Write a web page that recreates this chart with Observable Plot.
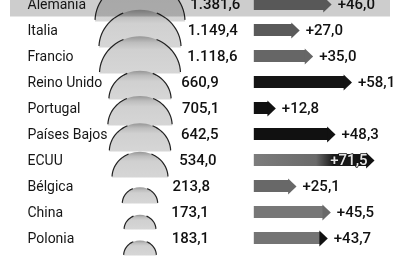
<!DOCTYPE html>
<html><head><meta charset="utf-8">
<script src="https://cdn.jsdelivr.net/npm/d3@7"></script>
<script src="https://cdn.jsdelivr.net/npm/@observablehq/plot@0.6"></script>
<style>html,body{margin:0;padding:0;background:#fff;} #chart{width:401px;height:262px;overflow:hidden;}</style>
</head><body><div id="chart"></div>
<script>
// ---- data ----
const countries = ["Alemania","Italia","Francio","Reino Unido","Portugal","Países Bajos","ECUU","Bélgica","China","Polonia"];
const values = [1381.6,1149.4,1118.6,660.9,705.1,642.5,534.0,213.8,173.1,183.1];
const changes = [46.0,27.0,35.0,58.1,12.8,48.3,71.5,25.1,45.5,43.7];
const highlighted = ["Alemania"];
const insideLabel = ["ECUU"];

// ---- styles ----
const arrowBody = {"Alemania":"#585858","Italia":"#5a5a5a","Francio":"#666666","Reino Unido":"#151515","Portugal":"#111111","Países Bajos":"#111111","ECUU":"url(#eeuuGrad)","Bélgica":"#686868","China":"#777777","Polonia":"#747474"};
const arrowHead = {"Alemania":"#585858","Italia":"#5a5a5a","Francio":"#666666","Reino Unido":"#151515","Portugal":"#111111","Países Bajos":"#111111","ECUU":"#111111","Bélgica":"#686868","China":"#6a6a6a","Polonia":"#111111"};

const rows = countries.map((c,i)=>({country:c, value:values[i], change:changes[i]}));
const es = d3.formatLocale({decimal:",", thousands:".", grouping:[3], currency:["","€"]});
const fmt = es.format(",.1f");

const W=401, H=262, ML=10, MR=11;
const xDomain=[-145,81];
const yRange=[-12.6,255.2];
const rDomain=[0,1400], rRange=[0,45.3];
const domeCx = 139.5;
const xs = Plot.scale({x:{domain:xDomain, range:[ML, W-MR]}});
const rs = Plot.scale({r:{type:"sqrt", domain:rDomain, range:rRange}});
const domeX = xs.invert(domeCx);
const valueX = d => xs.invert(domeCx + 21 + 0.65*rs.apply(d.value));

const SQ = 0.92;
const dome = {draw(ctx, size){
  const r=Math.sqrt(size/Math.PI), ry=r*SQ, k=0.5523;
  ctx.moveTo(-r,0);
  ctx.bezierCurveTo(-r,-k*ry,-k*r,-ry,0,-ry);
  ctx.bezierCurveTo(k*r,-ry,r,-k*ry,r,0);
  ctx.closePath();
}};
const domeSides = {draw(ctx, size){
  const r=Math.sqrt(size/Math.PI), ry=r*SQ, n=14, a0=0.04, a1=1.15;
  for (let j=0;j<=n;j++){ const t=Math.PI-(a0+(a1-a0)*j/n); const px=r*Math.cos(t), py=-ry*Math.sin(t); j? ctx.lineTo(px,py):ctx.moveTo(px,py); }
  for (let j=0;j<=n;j++){ const t=a0+(a1-a0)*j/n; const px=r*Math.cos(t), py=-ry*Math.sin(t); j? ctx.lineTo(px,py):ctx.moveTo(px,py); }
}};
const head = {draw(ctx, size){
  const r=Math.sqrt(size/Math.PI);
  ctx.moveTo(0,0); ctx.lineTo(-r*1.05,-r); ctx.lineTo(-r*1.05,r); ctx.closePath();
}};

function defsMark(){
  const ns="http://www.w3.org/2000/svg";
  const defs=document.createElementNS(ns,"defs");
  defs.innerHTML = `
  <linearGradient id="domeGrad" x1="0" y1="0" x2="0" y2="1">
    <stop offset="0" stop-color="#969696"/>
    <stop offset="0.17" stop-color="#bdbdbd"/>
    <stop offset="0.36" stop-color="#d0d0d0"/>
    <stop offset="1" stop-color="#d6d6d6"/>
  </linearGradient>
  <linearGradient id="eeuuGrad" x1="0" y1="0" x2="1" y2="0">
    <stop offset="0" stop-color="#7c7c7c"/>
    <stop offset="0.55" stop-color="#6a6a6a"/>
    <stop offset="0.7" stop-color="#1c1c1c"/>
    <stop offset="1" stop-color="#111111"/>
  </linearGradient>`;
  return defs;
}

const chart = Plot.plot({
  width: W, height: H,
  marginTop: 0, marginBottom: 0, marginLeft: ML, marginRight: MR,
  style: {fontFamily: "Roboto", background: "#fff", color: "#111"},
  x: {domain: xDomain, axis: null},
  y: {domain: countries, range: yRange, padding: 0, axis: null},
  r: {type: "sqrt", domain: rDomain, range: rRange},
  color: {type: "identity"},
  marks: [
    defsMark,
    Plot.dot(rows, {x: () => domeX, y: "country", r: "value", symbol: dome, dy: 17, fill: "url(#domeGrad)", stroke: "none", sort: null}),
    Plot.dot(rows, {x: () => domeX, y: "country", r: "value", symbol: domeSides, dy: 17, fill: "none", stroke: "#222", strokeWidth: 1.2, sort: null}),
    Plot.barX(highlighted, {x1: xDomain[0], x2: xDomain[1], y: d => d, insetBottom: 0.5, fill: "#cdcdcd", mixBlendMode: "multiply"}),
    Plot.barX(rows, {x1: 0, x2: "change", y: "country", insetTop: 7, insetBottom: 7, insetRight: 7, fill: d => arrowBody[d.country]}),
    Plot.dot(rows, {x: "change", y: "country", r: 8, symbol: head, fill: d => arrowHead[d.country], stroke: "none"}),
    Plot.text(rows, {y: "country", text: "country", frameAnchor: "left", dx: 17, textAnchor: "start", fontSize: 14, fill: "#151515"}),
    Plot.text(rows, {x: valueX, y: "country", text: d => fmt(d.value), textAnchor: "start", fontSize: 15, fontWeight: 500, fill: "#111"}),
    Plot.text(rows.filter(d => !insideLabel.includes(d.country)), {x: "change", y: "country", text: d => "+" + fmt(d.change), dx: 6, textAnchor: "start", fontSize: 15, fontWeight: 500, fill: "#111"}),
    Plot.text(rows.filter(d => insideLabel.includes(d.country)), {x: "change", y: "country", text: d => "+" + fmt(d.change), dx: -7, textAnchor: "end", fontSize: 15, fontWeight: 500, fill: "#e6e6e6", stroke: "#111", strokeWidth: 1.6, paintOrder: "stroke"})
  ]
});
document.getElementById("chart").appendChild(chart);
</script>
</body></html>
